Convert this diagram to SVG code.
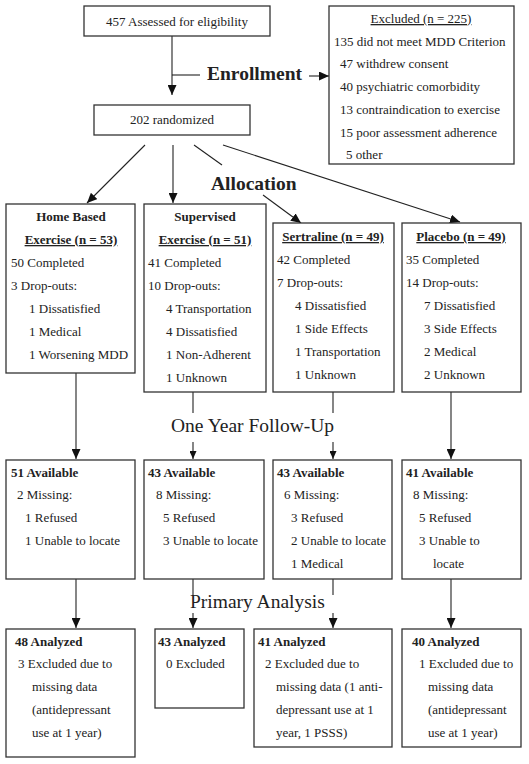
<svg xmlns="http://www.w3.org/2000/svg" width="529" height="764" viewBox="0 0 529 764">
<defs>
<style>
.box{fill:#fff;stroke:#333;stroke-width:1.3}
.ln{fill:none;stroke:#222;stroke-width:1.1}
text{font-family:"Liberation Serif","Times New Roman",serif;font-size:13px;fill:#222}
.b{font-weight:bold}
.u{text-decoration:underline}
.c{text-anchor:middle}
.big{font-size:19.5px}
</style>
<marker id="ah" markerUnits="userSpaceOnUse" markerWidth="10" markerHeight="9" refX="10" refY="4.5" orient="auto"><path d="M0,0 L10,4.5 L0,9 z" fill="#111"/></marker>
<marker id="as" markerUnits="userSpaceOnUse" markerWidth="8" markerHeight="7" refX="8" refY="3.5" orient="auto"><path d="M0,0 L8,3.5 L0,7 z" fill="#111"/></marker>
</defs>
<rect width="529" height="764" fill="#fff"/>

<g id="connectors">
<path class="ln" d="M172,36 V95" marker-end="url(#ah)"/>
<path class="ln" d="M172,75 H200"/>
<path class="ln" d="M309,76 H329" marker-end="url(#ah)"/>
<path class="ln" d="M145,145 L87,203" marker-end="url(#ah)"/>
<path class="ln" d="M173,145 V203" marker-end="url(#ah)"/>
<path class="ln" d="M194,145 L222,165"/>
<path class="ln" d="M263,195 L301,223" marker-end="url(#ah)"/>
<path class="ln" d="M223,145 L460,222" marker-end="url(#ah)"/>
<path class="ln" d="M76,373 V459" marker-end="url(#ah)"/>
<path class="ln" d="M193,392 V413"/>
<path class="ln" d="M193,442 V459" marker-end="url(#as)"/>
<path class="ln" d="M333,392 V413"/>
<path class="ln" d="M333,442 V459" marker-end="url(#as)"/>
<path class="ln" d="M451,392 V459" marker-end="url(#ah)"/>
<path class="ln" d="M76,579 V628" marker-end="url(#ah)"/>
<path class="ln" d="M193,579 V595"/>
<path class="ln" d="M193,613 V628" marker-end="url(#ah)"/>
<path class="ln" d="M333,579 V595"/>
<path class="ln" d="M333,613 V628" marker-end="url(#ah)"/>
<path class="ln" d="M451,579 V628" marker-end="url(#ah)"/>
</g>

<g id="labels">
<text class="b big" x="207" y="80">Enrollment</text>
<text class="b big" x="211" y="190">Allocation</text>
<text class="big" x="171" y="432">One Year Follow-Up</text>
<text class="big" x="190" y="608">Primary Analysis</text>
</g>

<g id="assessed">
<rect class="box" x="84" y="6" width="186" height="30"/>
<text class="c" x="177" y="26">457 Assessed for eligibility</text>
</g>

<g id="excluded">
<rect class="box" x="329" y="6" width="185" height="158"/>
<text class="c u" x="421" y="23">Excluded (n = 225)</text>
<text x="334" y="46">135 did not meet MDD Criterion</text>
<text x="340" y="68">47 withdrew consent</text>
<text x="340" y="91">40 psychiatric comorbidity</text>
<text x="340" y="114">13 contraindication to exercise</text>
<text x="340" y="137">15 poor assessment adherence</text>
<text x="346" y="159">5 other</text>
</g>

<g id="randomized">
<rect class="box" x="94" y="105" width="156" height="30"/>
<text class="c" x="172" y="124">202 randomized</text>
</g>

<g id="home">
<rect class="box" x="6" y="204" width="129" height="169"/>
<text class="c b" x="71" y="221">Home Based</text>
<text class="c b u" x="71" y="244">Exercise (n = 53)</text>
<text x="11" y="267">50 Completed</text>
<text x="11" y="290">3 Drop-outs:</text>
<text x="29" y="313">1 Dissatisfied</text>
<text x="29" y="336">1 Medical</text>
<text x="29" y="359">1 Worsening MDD</text>
</g>

<g id="supervised">
<rect class="box" x="144" y="204" width="122" height="188"/>
<text class="c b" x="205" y="221">Supervised</text>
<text class="c b u" x="205" y="244">Exercise (n = 51)</text>
<text x="148" y="267">41 Completed</text>
<text x="148" y="290">10 Drop-outs:</text>
<text x="166" y="313">4 Transportation</text>
<text x="166" y="336">4 Dissatisfied</text>
<text x="166" y="359">1 Non-Adherent</text>
<text x="166" y="382">1 Unknown</text>
</g>

<g id="sertraline">
<rect class="box" x="273" y="223" width="121" height="169"/>
<text class="c b u" x="333" y="241">Sertraline (n = 49)</text>
<text x="277" y="264">42 Completed</text>
<text x="277" y="287">7 Drop-outs:</text>
<text x="295" y="310">4 Dissatisfied</text>
<text x="295" y="333">1 Side Effects</text>
<text x="295" y="356">1 Transportation</text>
<text x="295" y="379">1 Unknown</text>
</g>

<g id="placebo">
<rect class="box" x="402" y="223" width="119" height="169"/>
<text class="c b u" x="461" y="241">Placebo (n = 49)</text>
<text x="406" y="264">35 Completed</text>
<text x="406" y="287">14 Drop-outs:</text>
<text x="424" y="310">7 Dissatisfied</text>
<text x="424" y="333">3 Side Effects</text>
<text x="424" y="356">2 Medical</text>
<text x="424" y="379">2 Unknown</text>
</g>

<g id="avail1">
<rect class="box" x="6" y="460" width="129" height="119"/>
<text class="b" x="11" y="477">51 Available</text>
<text x="17" y="499">2 Missing:</text>
<text x="25" y="522">1 Refused</text>
<text x="25" y="545">1 Unable to locate</text>
</g>

<g id="avail2">
<rect class="box" x="144" y="460" width="120" height="119"/>
<text class="b" x="148" y="477">43 Available</text>
<text x="156" y="499">8 Missing:</text>
<text x="163" y="522">5 Refused</text>
<text x="163" y="545">3 Unable to locate</text>
</g>

<g id="avail3">
<rect class="box" x="273" y="460" width="119" height="119"/>
<text class="b" x="277" y="477">43 Available</text>
<text x="284" y="499">6 Missing:</text>
<text x="291" y="522">3 Refused</text>
<text x="291" y="545">2 Unable to locate</text>
<text x="291" y="568">1 Medical</text>
</g>

<g id="avail4">
<rect class="box" x="402" y="460" width="119" height="119"/>
<text class="b" x="406" y="477">41 Available</text>
<text x="413" y="499">8 Missing:</text>
<text x="419" y="522">5 Refused</text>
<text x="419" y="545">3 Unable to</text>
<text x="433" y="568">locate</text>
</g>

<g id="analyzed1">
<rect class="box" x="6" y="629" width="129" height="128"/>
<text class="b" x="15" y="646">48 Analyzed</text>
<text x="18" y="668">3 Excluded due to</text>
<text x="32" y="691">missing data</text>
<text x="32" y="714">(antidepressant</text>
<text x="32" y="737">use at 1 year)</text>
</g>

<g id="analyzed2">
<rect class="box" x="155" y="629" width="89" height="79"/>
<text class="b" x="158" y="646">43 Analyzed</text>
<text x="166" y="668">0 Excluded</text>
</g>

<g id="analyzed3">
<rect class="box" x="254" y="629" width="138" height="118"/>
<text class="b" x="258" y="646">41 Analyzed</text>
<text x="265" y="668">2 Excluded due to</text>
<text x="276" y="691">missing data (1 anti-</text>
<text x="276" y="714">depressant use at 1</text>
<text x="276" y="737">year, 1 PSSS)</text>
</g>

<g id="analyzed4">
<rect class="box" x="402" y="629" width="119" height="118"/>
<text class="b" x="412" y="646">40 Analyzed</text>
<text x="419" y="668">1 Excluded due to</text>
<text x="428" y="691">missing data</text>
<text x="428" y="714">(antidepressant</text>
<text x="428" y="737">use at 1 year)</text>
</g>
</svg>
